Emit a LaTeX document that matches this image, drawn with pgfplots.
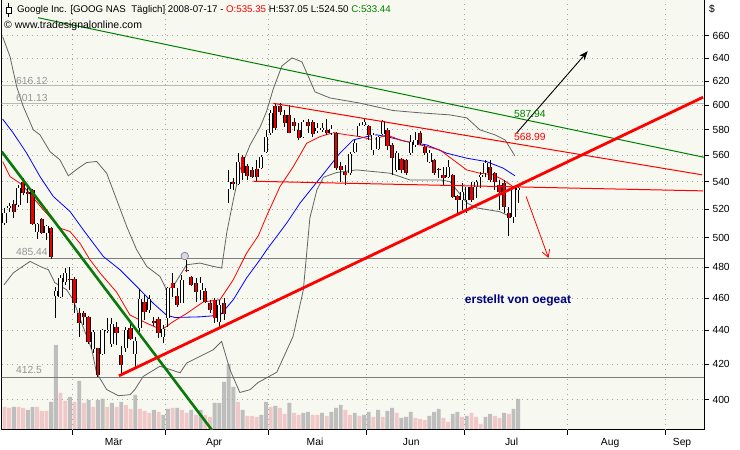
\documentclass[border=0pt]{standalone}
\usepackage{fontspec}
\setmainfont{Liberation Sans}
\usepackage{pgfplots}
\pgfplotsset{compat=1.18}
\usepackage{pgfplotstable}
\usepgfplotslibrary{fillbetween}
\usetikzlibrary{arrows.meta}

\definecolor{bgplot}{RGB}{247,249,240}
\definecolor{bandfill}{RGB}{236,238,231}
\definecolor{bandline}{RGB}{100,100,100}
\definecolor{gridc}{RGB}{165,165,165}
\definecolor{volgray}{RGB}{190,190,190}
\definecolor{volpink}{RGB}{240,200,200}
\definecolor{cred}{RGB}{235,0,0}
\definecolor{dgreen}{RGB}{0,128,0}
\definecolor{tgreen}{RGB}{10,120,10}
\definecolor{navyt}{RGB}{0,0,128}
\definecolor{reflight}{RGB}{185,185,185}
\definecolor{refdark}{RGB}{125,125,125}
\definecolor{lbl}{RGB}{150,150,150}

\pgfplotsset{candlebase/.style={only marks, mark=none, mark size=0pt,
  mark options={draw=none, fill=none}}}

% daily candles: index, open, high, low, close, down-flag
\pgfplotstableread{
i o h l c d
0 510.2 520.8 508.8 517.2 0
1 521.0 524.5 518.0 522.0 0
2 523.7 526.6 513.7 518.0 1
3 523.0 537.5 521.6 535.3 0
4 539.7 542.7 530.0 531.6 1
5 532.0 535.0 524.0 531.0 1
6 533.8 534.5 508.8 509.5 1
7 503.9 510.0 499.0 509.5 0
8 513.0 513.7 502.5 503.2 1
9 503.2 508.8 498.4 508.0 0
10 506.7 507.4 485.4 486.9 1
11 461.6 467.2 447.8 464.7 0
12 461.0 475.0 460.3 473.0 0
13 470.5 479.6 468.5 476.3 0
14 472.5 480.3 465.3 471.8 1
15 472.5 473.5 450.8 457.1 1
16 450.8 454.0 436.2 444.7 1
17 450.8 452.0 443.5 448.4 1
18 448.4 449.0 432.1 433.2 1
19 429.0 440.4 426.8 439.2 0
20 429.7 429.7 412.9 414.0 1
21 426.2 441.0 425.6 440.4 0
22 439.8 447.7 438.6 440.4 0
23 432.1 447.7 430.3 444.1 0
24 442.3 445.3 431.5 438.6 1
25 425.6 430.9 413.4 419.8 1
26 429.7 442.3 427.4 440.4 0
27 441.6 446.5 434.4 435.0 1
28 426.2 436.2 418.7 433.8 0
29 441.6 466.0 439.2 459.6 0
30 457.7 462.2 446.5 451.5 1
31 452.7 462.2 450.8 459.6 0
32 445.9 448.4 442.9 444.7 1
33 447.1 448.4 435.6 438.6 1
34 436.2 443.5 432.7 441.0 0
35 447.7 467.2 442.3 466.6 0
36 469.8 476.3 461.0 466.6 1
37 461.6 466.6 454.7 455.9 1
38 457.1 475.0 457.1 471.8 0
39 478.3 484.9 477.0 477.6 1
40 473.7 474.4 467.9 468.5 1
41 469.8 473.0 457.7 464.0 1
42 465.3 473.7 459.0 469.8 0
43 464.7 466.6 457.1 457.7 1
44 457.1 459.0 450.8 452.7 1
45 459.0 460.3 444.7 447.7 1
46 445.3 459.0 441.6 455.9 0
47 457.1 460.3 446.5 450.2 1
48 534.5 548.7 524.4 539.7 0
49 539.7 542.7 533.8 538.2 1
50 538.2 561.7 537.5 554.8 0
51 558.6 560.2 541.2 546.4 1
52 551.7 553.3 541.2 544.3 1
53 548.7 551.0 542.7 543.5 1
54 549.4 556.3 539.7 543.5 1
55 550.2 560.2 549.4 558.6 0
56 562.5 579.8 561.7 574.2 0
57 577.4 595.9 575.8 593.4 0
58 599.2 601.7 579.8 581.4 1
59 599.2 601.7 591.8 594.2 1
60 591.8 595.9 582.2 585.4 1
61 591.8 600.0 577.0 577.4 1
62 586.2 589.4 579.0 583.0 1
63 579.8 585.4 571.8 573.4 1
64 574.2 587.8 573.4 586.2 0
65 586.2 588.6 577.4 583.0 1
66 586.2 587.8 574.2 576.6 1
67 579.0 585.4 577.4 581.4 0
68 580.0 585.4 578.2 581.4 0
69 579.8 588.6 575.8 577.4 1
70 577.4 583.8 575.8 580.6 0
71 577.4 578.0 548.7 550.2 1
72 551.7 554.8 539.7 548.7 1
73 547.1 552.5 537.5 545.0 1
74 546.4 562.5 545.0 561.0 0
75 562.5 571.8 561.7 569.4 0
76 575.0 585.4 574.2 583.0 0
77 583.8 589.4 583.0 586.2 0
78 583.0 583.4 571.8 575.8 1
79 564.0 577.4 560.2 575.8 0
80 564.8 575.0 564.0 574.2 0
81 576.6 587.8 575.8 587.0 0
82 579.8 581.4 564.0 567.1 1
83 567.9 569.4 545.0 558.0 1
84 548.7 563.2 547.1 561.7 0
85 557.0 557.9 546.4 548.7 1
86 556.3 557.0 545.0 546.4 1
87 561.7 575.8 560.2 570.2 0
88 567.9 578.2 566.3 571.8 0
89 577.4 579.0 567.9 569.4 1
90 566.3 567.9 560.2 561.7 1
91 554.8 564.0 554.0 561.7 0
92 556.3 557.0 545.0 546.4 1
93 549.4 550.2 542.7 548.7 1
94 545.0 551.0 537.5 542.7 1
95 543.5 556.3 542.7 551.0 0
96 545.0 545.4 528.1 528.8 1
97 529.5 530.2 516.9 526.6 1
98 526.6 539.0 519.4 532.3 0
99 526.6 536.0 517.0 536.0 0
100 536.0 539.7 525.1 526.6 1
101 536.0 541.2 528.1 539.7 0
102 543.5 547.1 535.3 545.0 0
103 546.4 556.3 543.5 554.0 0
104 551.0 556.3 539.7 541.2 1
105 546.4 547.1 533.8 539.7 1
106 537.5 541.2 519.4 532.3 1
107 539.0 541.2 517.0 521.6 1
108 517.0 521.6 501.2 513.7 1
109 514.4 536.0 510.2 535.3 0
110 533.4 537.05 524.5 535.3 0
}\candles

% Bollinger bands
\pgfplotstableread{
i p
-0.4 659.1
1.18 641.2
2.61 615.3
4.03 598.6
6.17 579.8
7.6 575.8
9.74 562.7
11.88 556.3
13.66 544.3
15.8 550.0
17.6 554.3
19.74 555.1
21.88 546.2
24.03 526.6
26.17 507.6
28.3 491.6
30.45 480.5
33.3 473.9
34.7 465.3
36.1 467.4
39.0 481.6
41.86 482.7
44.7 480.5
46.5 479.4
47.6 503.4
49.0 526.6
50.4 548.7
52.6 567.9
54.7 581.6
56.15 594.9
57.56 613.4
59.4 633.0
61.56 640.1
63.7 636.6
65.2 622.7
66.5 610.8
69.7 605.8
76.1 601.5
83.2 595.4
89.0 593.5
95.4 591.8
99.0 589.4
101.8 579.8
105.0 575.8
107.2 571.8
109.3 559.4
}\bbup

\pgfplotstableread{
i p
-0.1 468.5
1.9 476.3
5.46 483.8
7.6 480.5
9.4 478.3
10.8 469.8
13.3 465.3
14.7 459.0
16.5 444.7
18.7 428.5
19.7 415.1
21.9 405.6
24.4 402.2
26.9 402.8
27.9 405.6
29.7 413.0
33.3 418.9
37.6 415.1
39.0 420.7
44.7 428.5
46.5 433.4
48.3 416.8
50.4 404.0
52.6 405.6
54.3 409.6
58.3 415.4
61.8 436.4
64.0 465.3
65.4 513.7
66.9 533.8
68.3 543.2
71.1 546.7
75.4 548.7
82.6 546.2
86.8 541.2
93.3 541.2
95.4 540.0
99.0 524.4
101.1 520.8
106.1 518.0
108.2 514.7
109.3 515.8
}\bblo

\newcommand\tf{\fontsize{9.7}{11}\selectfont}
\newcommand\lf{\fontsize{10.3}{12}\selectfont}

\begin{document}
\begin{tikzpicture}
\fill[white] (0pt,0pt) rectangle (740pt,450pt);
\fill[bgplot] (1.7pt,20pt) rectangle (704pt,450pt);

% band fill
\begin{axis}[at={(1.7pt,20pt)}, anchor=south west, scale only axis,
  width=702.3pt, height=430pt, xmin=-0.6, xmax=149.8,
  ymode=log, ymin=383.8, ymax=693.2, hide axis]
\addplot[draw=none, name path=up] table[x=i,y=p]{\bbup};
\addplot[draw=none, name path=lo] table[x=i,y=p]{\bblo};
\addplot[bandfill] fill between[of=up and lo];
\end{axis}

% volume
\begin{axis}[at={(1.7pt,20pt)}, anchor=south west, scale only axis,
  width=702.3pt, height=430pt, xmin=-0.6, xmax=149.8,
  ymin=0, ymax=430, hide axis, ybar, bar width=3.9pt, bar shift=0pt]
\addplot[draw=none, fill=volgray] coordinates {
(2,23)(5,20)(6,23)(10,28)(11,85)(14,33)(16,49)(18,30)(20,30)(21,31)(23,27)(25,28)
(28,35)(32,20)(34,15)(35,21)(37,22)(40,20)(42,20)(45,27)(46,27)(47,48)(48,66)(49,43)
(51,20)(55,15)(56,28)(58,24)(61,27)(64,17)(65,18)(68,17)(70,18)(71,22)(72,25)(75,17)
(77,15)(78,18)(80,20)(82,19)(83,22)(85,12)(86,13)(87,18)(91,14)(92,18)(93,21)(96,16)
(97,18)(99,14)(103,13)(104,16)(107,17)(109,21)(110,31)};
\addplot[draw=none, fill=volpink] coordinates {
(0,23)(1,22)(3,23)(4,22)(7,23)(8,19)(9,19)(12,37)(13,29)(15,28)(17,27)(19,23)(22,23)
(24,23)(26,25)(27,21)(29,21)(30,19)(31,17)(33,18)(36,22)(38,20)(39,17)(41,15)(43,15)
(44,13)(50,28)(52,14)(53,14)(54,13)(57,23)(59,22)(60,16)(62,17)(63,15)(66,15)(67,15)
(69,14)(73,20)(74,15)(76,14)(79,13)(81,13)(84,17)(88,12)(89,11)(90,10)(94,12)(95,8)
(98,13)(100,17)(101,13)(102,6)(105,14)(106,12)(108,16)};
\end{axis}

% main price axis
\begin{axis}[at={(1.7pt,20pt)}, anchor=south west, scale only axis,
  width=702.3pt, height=430pt, xmin=-0.6, xmax=149.8,
  ymode=log, ymin=383.8, ymax=693.2,
  axis line style={black, line width=0.9pt},
  ytick={400,420,440,460,480,500,520,540,560,580,600,620,640,660},
  yticklabels={400,420,440,460,480,500,520,540,560,580,600,620,640,660},
  ytick pos=right, yticklabel pos=right,
  tick align=outside, major tick length=5pt,
  tick style={black, line width=0.7pt},
  ymajorgrids, grid style={gridc, dash pattern=on 1pt off 4pt, line width=0.7pt},
  xtick={23.4,44.9,66.5,87.1,108.6,129.7,145.1},
  xticklabels={Mär,Apr,Mai,Jun,Jul,Aug,Sep},
  xtick pos=bottom,
  x tick style={draw=none},
  extra x ticks={14.5,34.5,56.5,77.5,98.5,120.5,141.5},
  extra x tick labels={},
  extra x tick style={grid=major, x tick style={draw=black, line width=0.7pt}},
  ticklabel style={font=\lf},
  minor tick num=0]

% reference lines
\addplot[reflight, line width=1pt] coordinates {(-1,616.12)(151,616.12)};
\addplot[reflight, line width=1pt] coordinates {(-1,601.13)(151,601.13)};
\addplot[refdark, line width=1pt] coordinates {(-1,485.44)(151,485.44)};
\addplot[refdark, line width=1pt] coordinates {(-1,412.5)(151,412.5)};

% band lines
\addplot[bandline, line width=0.8pt] table[x=i,y=p]{\bbup};
\addplot[bandline, line width=0.8pt] table[x=i,y=p]{\bblo};

% moving averages
\addplot[blue, line width=0.8pt] coordinates {
(-0.39,588.4)(1.88,577.2)(4.75,561.5)(7.6,543.7)(10.45,529.0)(14.03,518.2)(16.87,505.3)
(21.16,487.1)(24.73,478.3)(29.01,465.3)(31.86,456.7)(34.73,449.3)(36.51,447.9)(41.86,448.3)
(46.15,449.3)(49.0,459.0)(51.86,473.0)(54.71,484.9)(56.15,491.6)(60.43,510.0)(63.28,524.2)
(66.13,536.3)(68.99,548.7)(71.84,561.5)(74.69,571.8)(77.56,574.4)(79.7,575.8)(81.84,574.4)
(86.12,570.5)(90.4,567.9)(94.69,561.5)(98.97,557.6)(103.25,555.0)(106.81,550.0)(109.31,544.3)};
\addplot[red, line width=0.8pt] coordinates {
(-0.39,555.0)(1.18,543.7)(3.32,538.7)(4.75,533.8)(8.31,519.4)(11.88,506.5)(14.03,504.1)
(16.17,496.0)(18.31,484.9)(20.45,476.2)(24.03,463.7)(26.87,449.4)(30.45,444.4)(33.66,440.4)
(36.15,445.4)(39.01,450.4)(42.57,457.6)(46.15,459.0)(49.0,471.8)(51.86,489.4)(54.35,501.2)
(56.15,515.1)(59.0,536.3)(61.85,551.2)(64.71,569.2)(67.56,574.4)(70.41,577.6)(73.28,575.8)
(76.13,574.4)(78.97,571.8)(81.84,575.8)(84.69,571.8)(87.54,569.2)(90.4,566.6)(93.25,564.0)
(96.1,556.3)(98.97,548.7)(101.82,546.2)(104.67,545.0)(106.81,541.2)(108.9,536.3)};

% candles: wicks
\addplot[candlebase,
  error bars/.cd, y dir=plus, y explicit, error mark=none,
  error bar style={draw=black, solid, line width=0.9pt}]
  table[x=i, y=l, y error expr={\thisrow{h}-\thisrow{l}}] {\candles};
% body outlines
\addplot[candlebase,
  error bars/.cd, y dir=plus, y explicit, error mark=none,
  error bar style={draw=black, solid, line width=4.2pt}]
  table[x=i, y expr={min(\thisrow{o},\thisrow{c})}, y error expr={abs(\thisrow{c}-\thisrow{o})}] {\candles};
% red bodies
\addplot[candlebase, restrict expr to domain={\thisrow{d}}{0.5:1.5},
  error bars/.cd, y dir=plus, y explicit, error mark=none,
  error bar style={draw=cred, solid, line width=2.3pt}]
  table[x=i, y expr={min(\thisrow{o},\thisrow{c})}, y error expr={abs(\thisrow{c}-\thisrow{o})}] {\candles};
% white bodies
\addplot[candlebase, restrict expr to domain={\thisrow{d}}{-0.5:0.5},
  error bars/.cd, y dir=plus, y explicit, error mark=none,
  error bar style={draw=white, solid, line width=2.3pt}]
  table[x=i, y expr={min(\thisrow{o},\thisrow{c})}, y error expr={abs(\thisrow{c}-\thisrow{o})}] {\candles};

% event marker
\addplot[only marks, mark=*, mark size=3.8pt,
  mark options={fill={rgb,255:red,215;green,215;blue,235}, draw=gray, line width=0.7pt}]
  coordinates {(38.6,487.4)};

% trend lines
\addplot[tgreen, line width=2.6pt] coordinates {(-0.6,562.7)(45.1,381.5)};
\addplot[dgreen, line width=1pt] coordinates {(7.17,676.5)(149.8,558.3)};
\addplot[red, line width=1pt] coordinates {(57.56,601.3)(149.4,545.0)};
\addplot[red, line width=1pt] coordinates {(53.3,540.2)(149.6,533.1)};
\addplot[red, line width=2.8pt] coordinates {(24.52,413.4)(149.6,606.4)};

% arrows
\addplot[black, line width=0.9pt, -{Stealth[length=9pt,width=7pt]}] coordinates {(109.7,577.4)(124.9,646.0)};
\addplot[red, line width=0.8pt, -{Straight Barb[length=7pt,width=8pt]}] coordinates {(111.7,529.0)(116.5,486.1)};
\end{axis}

% texts
\draw[black, line width=0.8pt] (8.5pt,447pt) -- (8.5pt,433pt);
\filldraw[fill=white, draw=black, line width=0.8pt] (6pt,436.5pt) rectangle (11pt,443pt);
\node[anchor=west, inner sep=0pt, font=\tf] at (17pt,440pt)
  {Google Inc. [GOOG NAS\ \ Täglich] 2008-07-17 - \textcolor{red}{O:535.35} H:537.05 L:524.50 \textcolor{dgreen}{C:533.44}};
\node[anchor=west, inner sep=0pt, font=\fontsize{10.5}{12}\selectfont] at (4pt,424pt) {© www.tradesignalonline.com};
\node[anchor=west, inner sep=0pt, font=\lf] at (709pt,440.5pt) {\$};

\node[anchor=west, inner sep=0pt, text=lbl, font=\lf] at (16pt,369.2pt) {616.12};
\node[anchor=west, inner sep=0pt, text=lbl, font=\lf] at (16pt,352pt) {601.13};
\node[anchor=west, inner sep=0pt, text=lbl, font=\lf] at (16pt,198.5pt) {485.44};
\node[anchor=west, inner sep=0pt, text=lbl, font=\lf] at (16pt,80pt) {412.5};

\node[anchor=west, inner sep=0pt, text=dgreen, font=\lf] at (514pt,336pt) {587.94};
\node[anchor=west, inner sep=0pt, text=red, font=\lf] at (514pt,313pt) {568.99};

\node[inner sep=0pt, text=navyt, font=\fontsize{12}{14}\selectfont\bfseries] at (518pt,150pt) {erstellt von oegeat};

\pgfresetboundingbox
\path[use as bounding box] (0pt,0pt) rectangle (740pt,450pt);
\end{tikzpicture}
\end{document}
